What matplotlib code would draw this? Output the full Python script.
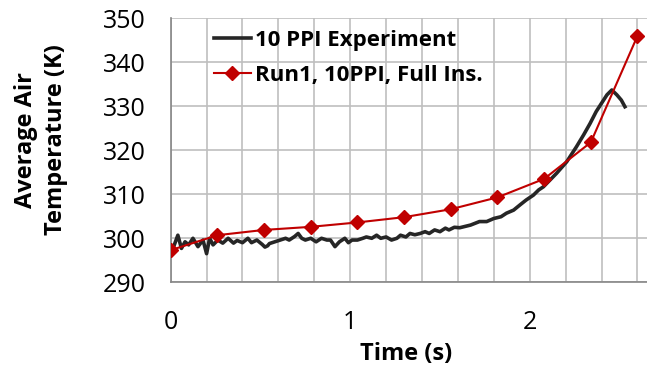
import matplotlib
matplotlib.use('Agg')
import matplotlib.pyplot as plt
from matplotlib.ticker import MultipleLocator

plt.rcParams['font.family'] = ['Open Sans', 'DejaVu Sans']

# experiment trace
exp_time = [0.00, 0.013, 0.04, 0.06, 0.08, 0.10, 0.124, 0.152, 0.18, 0.20,
            0.217, 0.236, 0.263, 0.29, 0.32, 0.35, 0.37, 0.40, 0.43, 0.45,
            0.48, 0.51, 0.525, 0.54, 0.55, 0.58, 0.61, 0.64, 0.66, 0.69,
            0.71, 0.73, 0.75, 0.78, 0.81, 0.84, 0.87, 0.89, 0.915, 0.94,
            0.97, 0.99, 1.01, 1.04, 1.07, 1.09, 1.12, 1.147, 1.17, 1.20,
            1.23, 1.26, 1.28, 1.31, 1.333, 1.36, 1.39, 1.417, 1.44, 1.47,
            1.50, 1.53, 1.55, 1.58, 1.61, 1.67, 1.72, 1.76, 1.80, 1.84,
            1.87, 1.91, 1.946, 1.98, 2.02, 2.05, 2.076, 2.15, 2.206, 2.26,
            2.30, 2.336, 2.37, 2.40, 2.43, 2.457, 2.485, 2.51, 2.53]
exp_temp = [297.3, 297.7, 300.7, 297.7, 299.2, 298.5, 300.0, 298.1, 299.6, 296.5,
            300.0, 298.5, 299.6, 298.9, 300.0, 298.9, 299.5, 299.0, 300.0, 299.0,
            299.6, 298.6, 298.0, 298.3, 298.8, 299.2, 299.6, 300.0, 299.6, 300.4,
            301.1, 300.0, 299.6, 300.0, 299.2, 300.0, 299.6, 299.6, 298.1, 299.2,
            300.0, 299.0, 299.6, 299.6, 300.0, 300.3, 300.0, 300.7, 300.0, 300.3,
            299.6, 300.0, 300.7, 300.3, 301.1, 300.8, 301.1, 301.5, 301.1, 301.9,
            301.5, 302.3, 301.9, 302.5, 302.4, 303.0, 303.8, 303.8, 304.5, 304.9,
            305.7, 306.4, 307.6, 308.7, 309.8, 311.0, 311.7, 314.8, 317.4, 320.8,
            323.5, 326.1, 328.8, 330.7, 332.6, 333.7, 332.6, 331.4, 329.9]

# simulation, Run1
run_time = [0.0, 0.26, 0.52, 0.78, 1.04, 1.30, 1.56, 1.82, 2.08, 2.34, 2.60]
run_temp = [297.3, 300.7, 301.9, 302.6, 303.6, 304.8, 306.6, 309.3, 313.5, 321.8, 346.0]

fig = plt.figure(figsize=(6.47, 3.73), dpi=100)
ax = fig.add_axes([0.2638, 0.2432, 0.7362, 0.7078])

ax.plot(exp_time, exp_temp, color='#262626', lw=2.6, label='10 PPI Experiment', zorder=3)
ax.plot(run_time, run_temp, color='#C00000', lw=1.5, marker='D', ms=7.5,
        label='Run1, 10PPI, Full Ins.', zorder=4)

ax.set_xlim(0, 2.653)
ax.set_ylim(290, 350)
ax.xaxis.set_major_locator(MultipleLocator(1))
ax.xaxis.set_minor_locator(MultipleLocator(0.2))
ax.yaxis.set_major_locator(MultipleLocator(10))
ax.grid(True, which='both', axis='x', color='#BFBFBF', lw=1.2)
ax.grid(True, which='major', axis='y', color='#BFBFBF', lw=1.2)
ax.set_axisbelow(True)

for s in ['top', 'right']:
    ax.spines[s].set_visible(False)
for s in ['left', 'bottom']:
    ax.spines[s].set_color('#868686')
    ax.spines[s].set_linewidth(1.2)

ax.tick_params(which='both', length=0)
ax.tick_params(axis='y', pad=18, labelsize=18)
ax.tick_params(axis='x', pad=20, labelsize=18)

fig.text(406 / 647, 1 - 354 / 373, 'Time (s)', ha='center', va='center',
         fontsize=17, fontweight='bold')
fig.text(41 / 647, 1 - 140 / 373, 'Average Air\nTemperature (K)', ha='center', va='center',
         rotation=90, fontsize=17, fontweight='bold', multialignment='center',
         linespacing=1.35)

ax.legend(loc='upper left', bbox_to_anchor=(203 / 647, 1 - 19 / 373),
          bbox_transform=fig.transFigure, frameon=False, borderpad=0,
          handlelength=1.65, handletextpad=0.2, labelspacing=0.62,
          prop={'size': 16, 'weight': 'bold'})

fig.savefig('out.png', dpi=100)
